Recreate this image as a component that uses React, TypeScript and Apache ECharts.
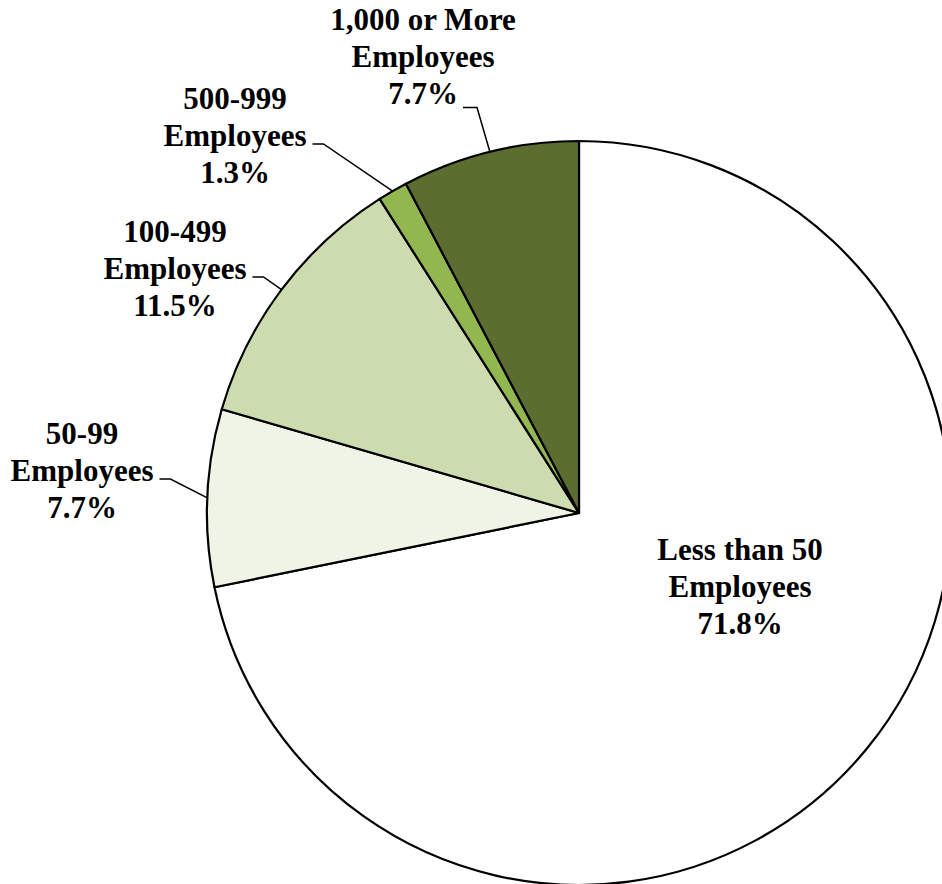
import React, { useEffect, useRef } from "react";
import * as echarts from "echarts";

const categories = [
  "Less than 50\nEmployees",
  "50-99\nEmployees",
  "100-499\nEmployees",
  "500-999\nEmployees",
  "1,000 or More\nEmployees",
];
const shares = [71.8, 7.7, 11.5, 1.3, 7.7];
const sliceColors = ["#FFFFFF", "#F0F4E7", "#CDDCAE", "#92B650", "#5B6E2F"];

// label placement (label centre) and where the leader attaches
const labelPlacement = [
  { x: 740, y: 586, attach: "none" },
  { x: 82, y: 470, attach: "side" },
  { x: 175, y: 268, attach: "side" },
  { x: 235, y: 135, attach: "side" },
  { x: 423, y: 56, attach: "bottom" },
];

const CENTER: [number, number] = [579, 513];
const RADIUS = 372;
const FONT = "Liberation Serif";

export default function App() {
  const ref = useRef<HTMLDivElement>(null);
  useEffect(() => {
    if (!ref.current) return;
    const chart = echarts.init(ref.current, undefined, { renderer: "svg" });
    const total = shares.reduce((a, b) => a + b, 0);
    const midAngles: number[] = [];
    let acc = 0;
    shares.forEach((s) => {
      const mid = 90 - ((acc + s / 2) / total) * 360;
      midAngles.push(mid);
      acc += s;
    });

    chart.setOption({
      animation: false,
      backgroundColor: "#FFFFFF",
      textStyle: { fontFamily: FONT },
      series: [
        {
          type: "pie",
          center: CENTER,
          radius: RADIUS,
          startAngle: 90,
          clockwise: true,
          avoidLabelOverlap: false,
          silent: true,
          emphasis: { disabled: true },
          itemStyle: { borderColor: "#000000", borderWidth: 2.2 },
          label: {
            show: true,
            position: "outside",
            fontFamily: FONT,
            fontWeight: "bold",
            fontSize: 31,
            lineHeight: 37,
            color: "#000000",
            align: "center",
            formatter: (p: any) => `${p.name}\n${Number(p.value).toFixed(1)}%`,
          },
          labelLine: {
            show: true,
            length: 20,
            length2: 12,
            lineStyle: { color: "#000000", width: 1.5 },
          },
          labelLayout: (params: any) => {
            const i = params.dataIndex;
            const p = labelPlacement[i];
            const w = params.labelRect.width;
            const h = params.labelRect.height;
            const res: any = { x: p.x, y: p.y, align: "center", verticalAlign: "middle" };
            if (p.attach !== "none") {
              let start = params.labelLinePoints && params.labelLinePoints[0];
              if (!start) {
                const a = (midAngles[i] * Math.PI) / 180;
                start = [CENTER[0] + RADIUS * Math.cos(a), CENTER[1] - RADIUS * Math.sin(a)];
              }
              let end: number[];
              let bend: number[];
              if (p.attach === "bottom") {
                end = [p.x + 40, p.y + h / 2 - 4];
                bend = [end[0] + 14, end[1]];
              } else {
                end = [p.x + w / 2 + 6, p.y + 9];
                bend = [end[0] + 11, end[1]];
              }
              res.labelLinePoints = [start, bend, end];
            }
            return res;
          },
          data: categories.map((name, i) => ({
            name,
            value: shares[i],
            itemStyle: { color: sliceColors[i] },
            labelLine: { show: i !== 0 },
          })),
        },
      ],
    });
    return () => chart.dispose();
  }, []);

  return (
    <div
      ref={ref}
      style={{ position: "fixed", left: 0, top: 0, width: 942, height: 884 }}
    />
  );
}
